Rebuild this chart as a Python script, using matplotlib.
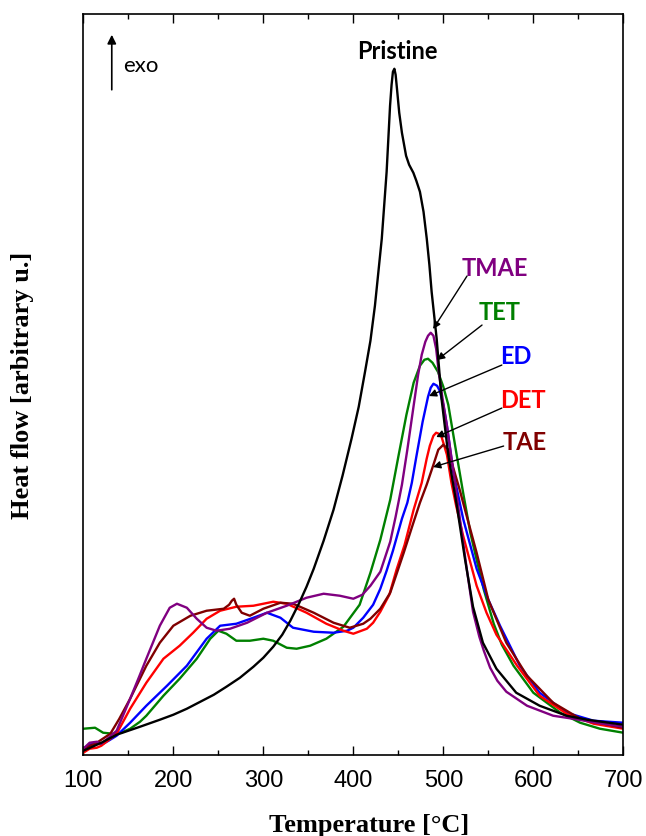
import matplotlib
matplotlib.use("Agg")
import matplotlib.pyplot as plt
from matplotlib.ticker import MultipleLocator, NullLocator

# ---- DSC heat-flow curves (temperature in °C, heat flow in arbitrary units) ----
pristine_T = [100, 110, 120, 137, 163, 185, 200, 215, 230, 245, 259, 274, 289, 300,
              311, 321, 330, 340, 348, 356, 367, 378, 388, 398, 406, 413, 419, 424,
              431.6, 437, 440.8, 442.5, 444, 445.6, 447, 448.5, 451, 454, 458.6, 462,
              466.7, 470, 474, 478, 481.6, 484.5, 487, 492.6, 498, 505.6, 515, 524,
              533, 544, 559, 581, 607, 637, 660, 700]
pristine_hf = [4, 8, 12, 20, 28, 35, 40, 46, 53, 60, 68, 77, 88, 97,
               108, 120, 134, 152, 168, 186, 214, 245, 279, 316, 348, 383, 414, 449,
               516, 583, 649, 670, 683, 686, 680, 666, 642, 622, 599, 590,
               582, 574, 563, 543, 516, 490, 463, 416, 356, 299, 249, 196,
               148, 112, 86, 62, 49, 39, 35, 30]

tmae_T = [100, 107, 115, 120, 128, 137, 152, 162, 170, 185, 196, 204, 215, 226, 237,
          248, 263, 282, 304, 326, 348, 367, 385, 400, 410, 419, 430, 441, 447, 454,
          460, 467, 472, 476, 480, 483, 486, 489, 492, 495, 499, 504, 513, 519, 526,
          533, 540, 545, 552, 560, 570, 593, 622, 644, 670, 700]
tmae_hf = [6, 12, 13, 11, 17, 24, 56, 78, 96, 129, 147, 151, 147, 136, 127,
           124, 126, 132, 142, 149, 157, 161, 159, 156, 160, 169, 183, 213, 238, 270,
           305, 349, 380, 400, 413, 419, 422, 419, 406, 382, 357, 329, 272, 232, 186,
           143, 118, 104, 87, 74, 63, 49, 39, 36, 32, 28]

tet_T = [100, 113, 122, 133, 142, 152, 163, 170, 189, 207, 226, 241, 250, 259, 270,
         285, 300, 311, 326, 337, 352, 370, 389, 407, 419, 430, 441, 450, 459, 467,
         474, 479, 483, 488, 494, 500, 505.5, 515, 522, 530, 537, 545, 556, 565, 578,
         600, 630, 652, 674, 700]
tet_hf = [26, 27, 22, 21, 22, 26, 33, 39, 59, 76, 96, 116, 124, 121, 114,
          114, 116, 114, 107, 106, 109, 116, 128, 150, 182, 215, 255, 298, 340, 372,
          389, 395, 396, 392, 383, 368, 350, 299, 262, 222, 195, 165, 131, 110, 89,
          62, 42, 32, 26, 22]

ed_T = [100, 107, 115, 122, 128, 137, 152, 170, 193, 215, 237, 252, 270, 289, 304,
        319, 333, 356, 378, 393, 400, 411, 422, 430, 437, 444, 454, 460, 465, 470, 477,
        483, 486, 489, 493, 496, 500, 504, 511, 522, 537, 550, 563, 585, 607, 637, 667,
        700]
ed_hf = [6, 10, 12, 11, 14, 19, 32, 49, 69, 89, 116, 129, 131, 137, 142,
         137, 127, 123, 122, 124, 127, 137, 150, 166, 184, 204, 236, 252, 272, 298, 333,
         358, 367, 371, 369, 364, 350, 329, 283, 236, 186, 155, 129, 89, 62, 42, 34,
         32]

det_T = [100, 107, 115, 120, 130, 137, 152, 170, 189, 207, 222, 237, 252, 270, 289,
         311, 326, 348, 370, 389, 400, 415, 422, 430, 440, 448, 457, 467, 476, 481.5,
         485, 489, 492, 495, 498, 504, 509, 514, 522, 537, 548, 559, 582, 607, 637,
         667, 700]
det_hf = [2, 6, 7, 9, 16, 21, 46, 72, 96, 109, 122, 136, 144, 148, 149,
          153, 151, 142, 131, 124, 121, 126, 132, 143, 160, 185, 210, 245, 272, 296,
          309, 319, 322, 321, 318, 300, 272, 250, 219, 169, 142, 120, 89, 59, 41,
          31, 26]

tae_T = [100, 115, 130, 140, 152, 170, 185, 200, 219, 237, 256, 262, 265, 267.5, 270,
         276, 285, 300, 319, 333, 356, 378, 396, 411, 419, 430, 441, 456, 466, 474,
         481.5, 489, 494.4, 500, 505.6, 511, 518.5, 522, 537, 550, 570, 593, 622, 652,
         700]
tae_hf = [6, 12, 21, 36, 56, 89, 112, 129, 139, 144, 146, 150, 154, 156, 150,
          142, 139, 146, 152, 151, 142, 132, 127, 131, 136, 146, 162, 202, 230, 252,
          270, 290, 305, 310, 305, 287, 264, 252, 202, 155, 112, 79, 52, 36, 27]

# ---- series labels: (name, colour, label position, arrow tail, arrow tip) ----
labels = ["TMAE", "TET", "ED", "DET", "TAE"]
label_colors = ["#800080", "#008000", "#0000ff", "#ff0000", "#800000"]
label_xy = [(557.4, 479.7), (563.0, 435.7), (581.0, 391.7), (588.6, 347.7), (590.8, 305.7)]
arrow_tail = [(526.3, 478.7), (543.0, 429.7), (565.0, 389.7), (565.0, 346.7), (567.0, 308.7)]
arrow_tip = [(488.6, 425.7), (493.0, 394.7), (484.0, 358.7), (492.0, 317.7), (488.6, 287.7)]

fig = plt.figure(figsize=(6.46, 8.37), dpi=100)
ax = fig.add_axes([0.1290, 0.0971, 0.8359, 0.8855])

lw = 1.7
ax.plot(tet_T, tet_hf, color="#008000", lw=lw, solid_joinstyle="round")
ax.plot(ed_T, ed_hf, color="#0000ff", lw=lw, solid_joinstyle="round")
ax.plot(det_T, det_hf, color="#ff0000", lw=lw, solid_joinstyle="round")
ax.plot(tae_T, tae_hf, color="#800000", lw=lw, solid_joinstyle="round")
ax.plot(tmae_T, tmae_hf, color="#800080", lw=lw, solid_joinstyle="round")
ax.plot(pristine_T, pristine_hf, color="black", lw=lw, solid_joinstyle="round")

ax.set_xlim(100, 700)
ax.set_ylim(0, 741.2)

# axes frame and ticks
for sp in ax.spines.values():
    sp.set_linewidth(1.2)
ax.xaxis.set_major_locator(MultipleLocator(100))
ax.xaxis.set_minor_locator(MultipleLocator(50))
ax.yaxis.set_major_locator(NullLocator())
ax.tick_params(axis="x", which="both", direction="in", top=True, bottom=True,
               width=1.0, pad=10)
ax.tick_params(axis="x", which="major", length=6.5)
ax.tick_params(axis="x", which="minor", length=3.6)
for t in ax.get_xticklabels():
    t.set_fontfamily("Liberation Sans")
    t.set_fontsize(17)

ax.set_xlabel("Temperature [°C]", fontfamily="Liberation Serif", fontweight="bold",
              fontsize=19, va="center")
ax.xaxis.set_label_coords(0.529, -0.0935)
ax.set_ylabel("Heat flow [arbitrary u.]", fontfamily="Liberation Serif",
              fontweight="bold", fontsize=19, va="center")
ax.yaxis.set_label_coords(-0.1135, 0.5)

# exo direction marker
ax.annotate("", xy=(131.6, 720), xytext=(131.6, 665),
            arrowprops=dict(arrowstyle="-|>", color="black", lw=1.2,
                            mutation_scale=13, shrinkA=0, shrinkB=0))
ax.text(143.8, 684.2, "exo", fontfamily="Lato", fontsize=16, ha="left", va="baseline")

# pristine label
ax.text(448.6, 696.7, "Pristine", fontfamily="Lato", fontweight="bold", fontsize=17,
        ha="center", va="baseline", color="black")

# labelled arrows for the modified samples
for name, col, pos, tail, tip in zip(labels, label_colors, label_xy, arrow_tail, arrow_tip):
    ax.text(pos[0], pos[1], name, fontfamily="Lato", fontweight="bold", fontsize=17,
            ha="center", va="baseline", color=col)
    ax.annotate("", xy=tip, xytext=tail,
                arrowprops=dict(arrowstyle="-|>", color="black", lw=1.0,
                                mutation_scale=11, shrinkA=0, shrinkB=0))

fig.savefig("out.png", dpi=100)
